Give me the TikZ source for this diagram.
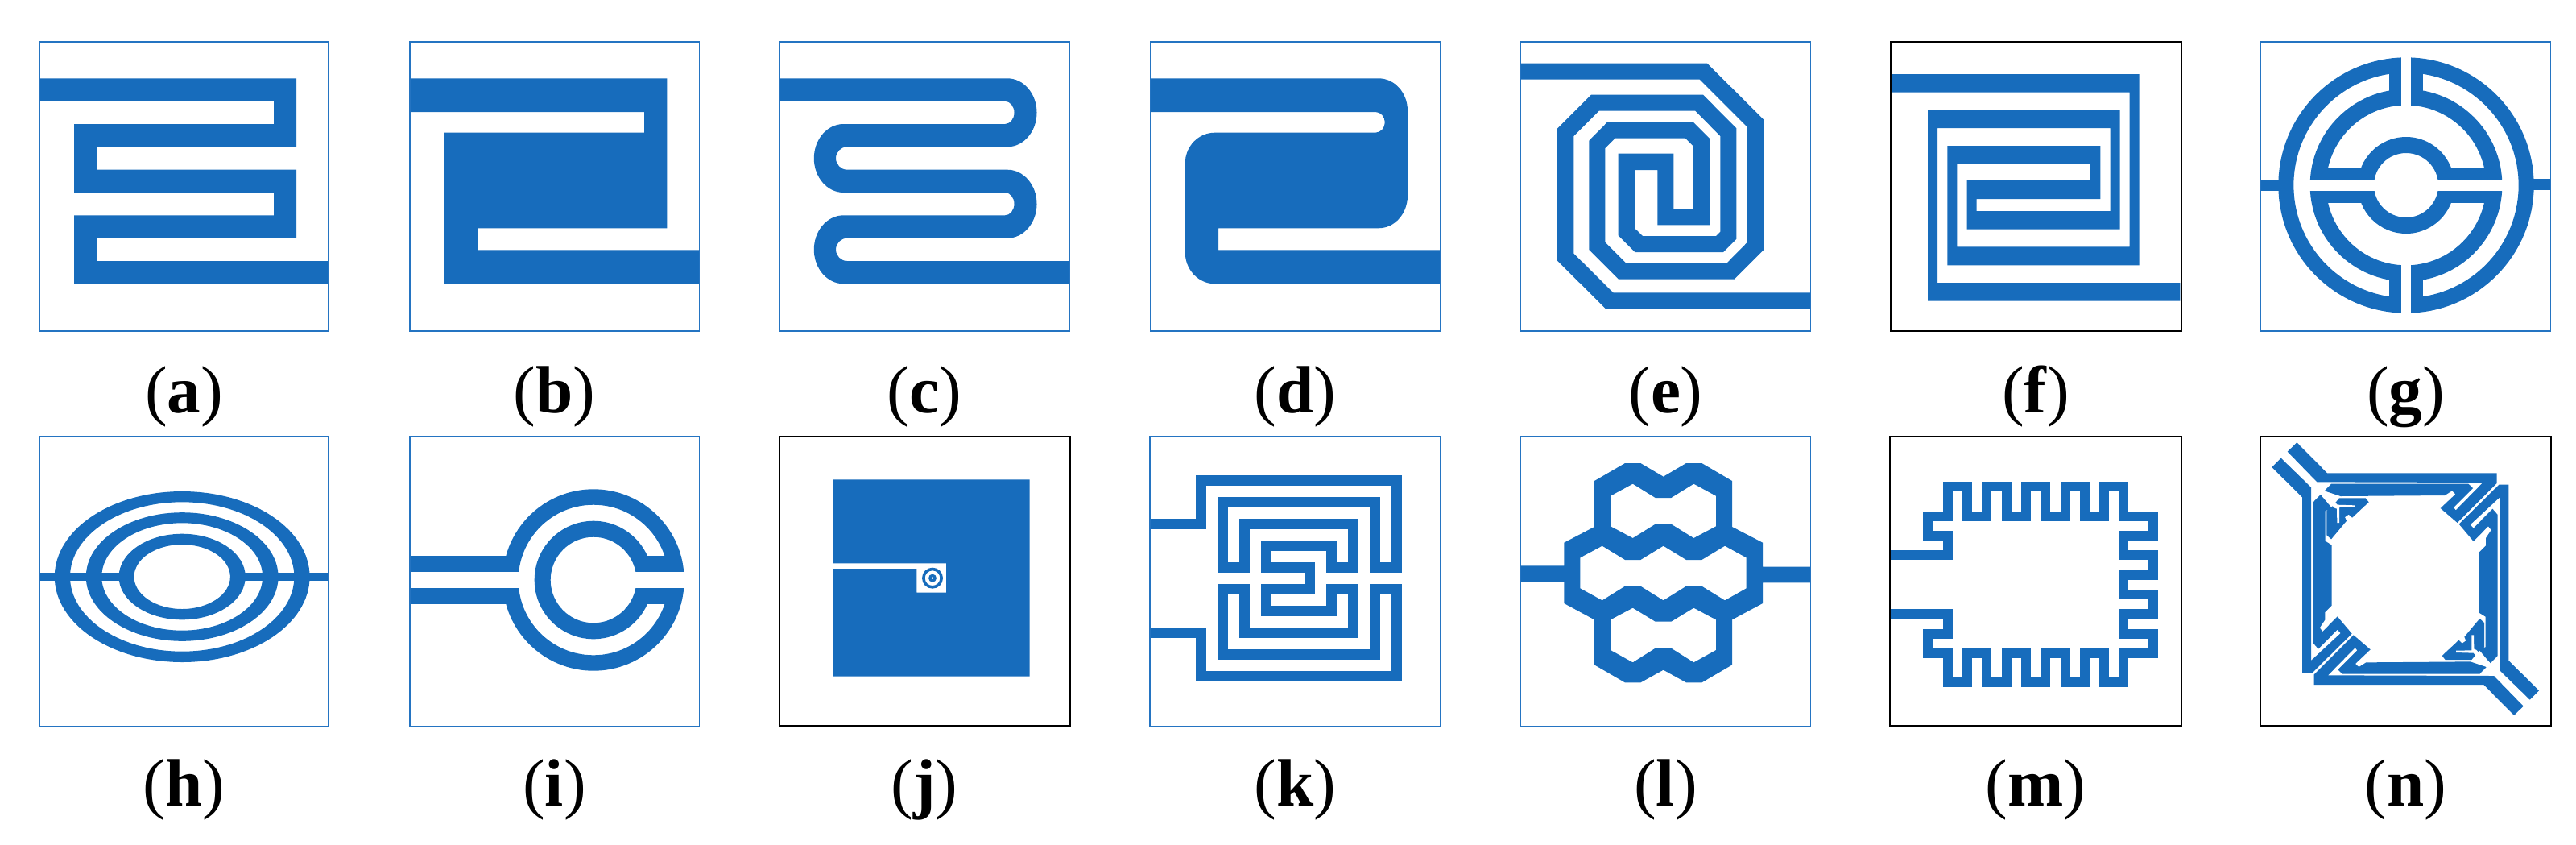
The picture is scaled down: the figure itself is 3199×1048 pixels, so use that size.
\documentclass[tikz,border=0pt]{standalone}
\usepackage{fontspec}
\setmainfont{Liberation Serif}
\definecolor{cublue}{HTML}{176CBC}
\definecolor{frameblue}{HTML}{2474C2}
\newcommand{\sublabel}[3]{\node[sublab] (lab#1) at (#2,#3) {(\textbf{#1})};}
\newcommand{\nhalf}{%
  \fill[cu] (187,58) -- (300,172) -- (932,172) -- (932,210) -- (785,357) -- (722,303) -- (778,250) -- (765,238) -- (738,255) -- (350,258) -- (290,238) -- (315,212) -- (826,212) -- (843,228) -- (771,300) -- (779,310) -- (880,207) -- (262,205) -- (152,92) -- cycle;
  \fill[cu] (128,116) -- (94,150) -- (207,262) -- (207,917) -- (243,917) -- (392,770) -- (338,706) -- (283,762) -- (272,748) -- (292,718) -- (292,690) -- (317,665) -- (317,440) -- (293,425) -- (293,312) -- (320,305) -- (275,252) -- (248,280) -- (248,805) -- (267,827) -- (338,755) -- (350,768) -- (240,870) -- (240,225) -- cycle;
  \fill[cu] (320,295) -- (345,265) -- (443,265) -- (455,280) -- (393,338) -- (380,326) -- (366,336) -- (372,350) -- (315,418) -- (298,403) -- (298,312) -- cycle;
  \fill[white] (275,252) -- (290,238) -- (338,290) -- (403,292) -- (403,299) -- (345,300) -- (345,357) -- (337,357) -- (336,305) -- (328,302) -- cycle;
}
\tikzset{
  cu/.style={fill=cublue,even odd rule},
  frb/.style={draw=frameblue,line width=0.4mm},
  frk/.style={draw=black,line width=0.5mm},
  zoomed/.style={shift={#1},x=0.1mm,y=-0.1mm},
  trace/.style={draw=cublue,line join=miter,line cap=butt,miter limit=10},
  sublab/.style={anchor=base,inner sep=0pt,font=\fontsize{71}{76}\selectfont},
}
\begin{document}
\begin{tikzpicture}[x=0.3mm,y=-0.3mm]
\useasboundingbox (0,0) rectangle (3199,1048);
% (a)
\fill[cu] (49,97.3) -- (368,97.3) -- (368,182.3) -- (120,182.3) -- (120,210.7) -- (368,210.7) -- (368,295.7) -- (120,295.7) -- (120,324) -- (408,324) -- (408,352.3) -- (92,352.3) -- (92,267.3) -- (340,267.3) -- (340,239) -- (92,239) -- (92,154) -- (340,154) -- (340,125.7) -- (49,125.7) -- cycle;
% (b)
\fill[cu] (509,97.3) -- (828.4,97.3) -- (828.4,283.3) -- (593.6,283.3) -- (593.6,310.3) -- (868.5,310.3) -- (868.5,352.3) -- (552.2,352.3) -- (552.2,164.7) -- (800.2,164.7) -- (800.2,139) -- (509,139) -- cycle;
% (c)
\fill[cu] (968.3,97.3) -- (1251,97.3) arc[start angle=-90,end angle=90,x radius=36.5,y radius=42.5]
 -- (1052,182.3) arc[start angle=-90,end angle=-270,x radius=14,y radius=14.2]
 -- (1251,210.7) arc[start angle=-90,end angle=90,x radius=36.5,y radius=42.5]
 -- (1052,295.7) arc[start angle=-90,end angle=-270,x radius=14,y radius=14.15]
 -- (1328.2,324) -- (1328.2,352.3) -- (1047.5,352.3) arc[start angle=90,end angle=270,x radius=36.7,y radius=42.5]
 -- (1248,267.3) arc[start angle=90,end angle=-90,x radius=11.5,y radius=14.15]
 -- (1047.5,239) arc[start angle=90,end angle=270,x radius=36.7,y radius=42.5]
 -- (1248,154) arc[start angle=90,end angle=-90,x radius=11.5,y radius=14.15]
 -- (968.3,125.7) -- cycle;
% (d)
\fill[cu] (1428.7,97.3) -- (1712,97.3) arc[start angle=-90,end angle=0,x radius=36,y radius=40]
 -- (1748,243) arc[start angle=0,end angle=90,x radius=36,y radius=40.3]
 -- (1513,283.3) -- (1513,310.3) -- (1788.6,310.3) -- (1788.6,352.3) -- (1508.5,352.3)
 arc[start angle=90,end angle=180,x radius=36.8,y radius=39.3]
 -- (1471.7,203) arc[start angle=180,end angle=270,x radius=36.8,y radius=38.3]
 -- (1708,164.7) arc[start angle=90,end angle=-90,x radius=11.8,y radius=12.85]
 -- (1428.7,139) -- cycle;
% (e)
\begin{scope}[zoomed={(1850,40)}]
\fill[cu] (115,116) -- (810,116) -- (1021,326) -- (1021,810) -- (911,920) -- (480,920) -- (370,810) -- (370,404) -- (439,334) -- (757,334) -- (819,396) -- (819,718) -- (625,718) -- (625,513) -- (540,513) -- (540,730) -- (570,759) -- (843,759) -- (859,743) -- (859,387) -- (766,293) -- (407,293) -- (313,387) -- (313,824) -- (460,970) -- (1196,970) -- (1196,1029) -- (431,1029) -- (252,851) -- (252,359) -- (378,233) -- (795,233) -- (919,358) -- (919,770) -- (870,819) -- (541,819) -- (479,757) -- (479,452) -- (685,452) -- (685,658) -- (758,658) -- (758,424) -- (729,395) -- (467,395) -- (430,432) -- (430,782) -- (508,860) -- (883,860) -- (960,782) -- (960,354) -- (782,176) -- (115,176) -- cycle;
\end{scope}
% (f)
\begin{scope}[zoomed={(2300,40)}]
\fill[cu] (146,156) -- (1070,156) -- (1070,868) -- (355,868) -- (355,423) -- (925,423) -- (925,621) -- (464,621) -- (464,666) -- (962,666) -- (962,357) -- (318,357) -- (318,933) -- (1222,933) -- (1222,1001) -- (282,1001) -- (282,289) -- (998,289) -- (998,734) -- (428,734) -- (428,552) -- (888,552) -- (888,491) -- (391,491) -- (391,799) -- (1034,799) -- (1034,224) -- (146,224) -- cycle;
\end{scope}
% (g)
\begin{scope}[zoomed={(2750,40)}]
\fill[cu] (172,549) rectangle (260,592);
\fill[cu] (1170,545) rectangle (1253,589);
\fill[cu] (714,570) circle[radius=476] (714,570) circle[radius=419];
\fill[cu] (714,570) circle[radius=358] (714,570) circle[radius=298];
\fill[cu] (714,570) circle[radius=180] (714,570) circle[radius=120];
\fill[cu] (400,505) rectangle (594,636);
\fill[cu] (834,505) rectangle (1030,636);
\fill[cu] (651,110) rectangle (695,255);
\fill[cu] (732,110) rectangle (776,255);
\fill[cu] (651,885) rectangle (695,1030);
\fill[cu] (732,885) rectangle (776,1030);
\fill[white] (695,80) rectangle (732,285);
\fill[white] (695,855) rectangle (732,1060);
\fill[white] (330,548) rectangle (1100,592);
\end{scope}
% (h)
\fill[cu] (49,711.3) rectangle (166.5,721);
\fill[cu] (286,711.3) rectangle (408,721);
\fill[cu] (226.2,716) ellipse[x radius=158.4,y radius=106] (226.2,716) ellipse[x radius=139.2,y radius=92.7];
\fill[cu] (226.2,716) ellipse[x radius=119.4,y radius=79.8] (226.2,716) ellipse[x radius=99.9,y radius=66.7];
\fill[cu] (226.2,716) ellipse[x radius=78.6,y radius=53.3] (226.2,716) ellipse[x radius=59.7,y radius=40];
% (i)
\fill[cu] (737,720) circle[radius=112.7] (737,720) circle[radius=93.3];
\fill[cu] (737,720) circle[radius=73.3] (737,720) circle[radius=53.3];
\fill[white] (620,710) rectangle (650,730);
\fill[white] (782,710) rectangle (856,730);
\fill[cu] (509,690) rectangle (644,710);
\fill[cu] (509,730) rectangle (644,750.3);
\fill[cu] (790,690) rectangle (846,710);
\fill[cu] (790,730) rectangle (846,750);
% (j)
\begin{scope}[zoomed={(960,530)}]
\fill[cu] (223,196) -- (956,196) -- (956,929) -- (223,929) -- (223,528) -- (535,528) -- (535,617) -- (645,617) -- (645,508) -- (223,508) -- cycle;
\fill[cu] (594,563) circle[radius=39] (594,563) circle[radius=28];
\fill[cu] (594,563) circle[radius=15] (594,563) circle[radius=5];
\end{scope}
% (k)
\begin{scope}[zoomed={(1400,530)}]
\draw[trace,line width=4mm] (85,362) -- (275,362) -- (275,200) -- (1004,200) -- (1004,524) -- (923,524) -- (923,281) -- (356,281) -- (356,524) -- (437,524) -- (437,362) -- (842,362) -- (842,524) -- (761,524) -- (761,443) -- (518,443) -- (518,524) -- (680,524) -- (680,605) -- (518,605) -- (518,686) -- (761,686) -- (761,605) -- (842,605) -- (842,767) -- (437,767) -- (437,605) -- (356,605) -- (356,848) -- (923,848) -- (923,605) -- (1004,605) -- (1004,929) -- (275,929) -- (275,767) -- (85,767);
\end{scope}
% (l)
\begin{scope}[zoomed={(1860,530)}]
\fill[cu] (85,517) -- (247,517) -- (247,431) -- (360,372) -- (360,201) -- (474,135) -- (532,135) -- (617,185) -- (702,135) -- (760,135) -- (873,201) -- (873,372) -- (987,431) -- (987,521) -- (1165,521) -- (1165,580) -- (987,580) -- (987,657) -- (873,718) -- (873,886) -- (760,952) -- (702,952) -- (617,905) -- (532,952) -- (474,952) -- (360,886) -- (360,718) -- (247,657) -- (247,576) -- (85,576) -- cycle
 (420,257) -- (503,212) -- (587,264) -- (646,264) -- (730,212) -- (813,257) -- (813,370) -- (730,414) -- (646,362) -- (587,362) -- (503,414) -- (420,370) -- cycle
 (307,487) -- (389,443) -- (474,495) -- (532,495) -- (617,443) -- (702,495) -- (760,495) -- (846,443) -- (926,487) -- (926,601) -- (846,646) -- (760,593) -- (702,593) -- (617,646) -- (532,593) -- (474,593) -- (389,646) -- (307,601) -- cycle
 (420,718) -- (503,674) -- (587,725) -- (646,725) -- (730,674) -- (813,718) -- (813,831) -- (730,877) -- (646,824) -- (587,824) -- (503,877) -- (420,831) -- cycle;
\end{scope}
% (m)
\begin{scope}[zoomed={(2320,530)}]
\draw[trace,line width=3.6mm] (85,477) -- (297,477) -- (297,405) -- (223,405) -- (223,332) -- (297,332) -- (297,222) -- (369,222) -- (369,332) -- (442,332) -- (442,222) -- (515,222) -- (515,332) -- (588,332) -- (588,222) -- (661,222) -- (661,332) -- (734,332) -- (734,222) -- (807,222) -- (807,332) -- (880,332) -- (880,222) -- (952,222) -- (952,332) -- (1061,332) -- (1061,405) -- (952,405) -- (952,478) -- (1061,478) -- (1061,551) -- (952,551) -- (952,624) -- (1061,624) -- (1061,697) -- (952,697) -- (952,770) -- (1061,770) -- (1061,842) -- (952,842) -- (952,951) -- (880,951) -- (880,842) -- (807,842) -- (807,951) -- (734,951) -- (734,842) -- (661,842) -- (661,951) -- (588,951) -- (588,842) -- (515,842) -- (515,951) -- (442,951) -- (442,842) -- (369,842) -- (369,951) -- (297,951) -- (297,842) -- (223,842) -- (223,770) -- (297,770) -- (297,696) -- (85,696);
\end{scope}
% (n)
\begin{scope}[zoomed={(2790,530)}]
\nhalf
\begin{scope}[rotate around={180:(591.5,566)}]
\nhalf
\end{scope}
\end{scope}
% frames
\draw[frb] (49,52) rectangle (408,411);
\draw[frb] (509,52) rectangle (868.5,411);
\draw[frb] (968.3,52) rectangle (1328,411);
\draw[frb] (1428.7,52) rectangle (1788.6,411);
\draw[frb] (1888.3,52) rectangle (2248.7,411);
\draw[frk] (2347.7,52) rectangle (2708.7,411);
\draw[frb] (2807.3,52) rectangle (3167.7,411);
\draw[frb] (49,541.7) rectangle (408,901.3);
\draw[frb] (509,541.7) rectangle (868.5,901.3);
\draw[frk] (968.3,541.7) rectangle (1328.7,901.3);
\draw[frb] (1428,541.7) rectangle (1788.7,901.3);
\draw[frb] (1888.3,541.7) rectangle (2248.7,901.3);
\draw[frk] (2347.3,541.7) rectangle (2708.7,901.3);
\draw[frk] (2807.3,541.7) rectangle (3167.7,901.3);
% labels
\sublabel{a}{228.5}{512}
\sublabel{b}{688.5}{512}
\sublabel{c}{1148}{512}
\sublabel{d}{1608.5}{512}
\sublabel{e}{2068.5}{512}
\sublabel{f}{2528}{512}
\sublabel{g}{2987.5}{512}
\sublabel{h}{228.5}{1000}
\sublabel{i}{688.5}{1000}
\sublabel{j}{1148}{1000}
\sublabel{k}{1608.5}{1000}
\sublabel{l}{2068.5}{1000}
\sublabel{m}{2528}{1000}
\sublabel{n}{2987.5}{1000}
\end{tikzpicture}
\end{document}
